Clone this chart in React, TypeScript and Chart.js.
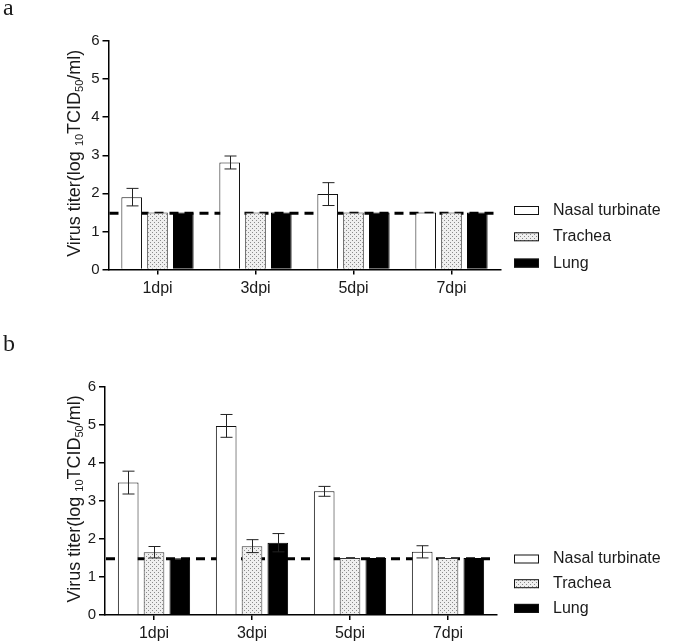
import React, { useEffect, useRef } from 'react';
import { Chart, registerables } from 'chart.js';

Chart.register(...registerables);

// ---------- data ----------
const categories = ['1dpi', '3dpi', '5dpi', '7dpi'];
const seriesLabels = ['Nasal turbinate', 'Trachea', 'Lung'];
const yTickValues = [0, 1, 2, 3, 4, 5, 6];
const detectionLimit = 1.48;
const axisTitleParts = [
  { t: 'Virus titer(log ', sub: false },
  { t: '10', sub: true },
  { t: 'TCID', sub: false },
  { t: '50', sub: true },
  { t: '/ml)', sub: false },
];

// panel a
const aNasal = [1.9, 2.81, 1.98, 1.5];
const aNasalErr = [0.23, 0.17, 0.3, 0];
const aTrachea = [1.5, 1.5, 1.5, 1.5];
const aTracheaErr = [0, 0, 0, 0];
const aLung = [1.5, 1.5, 1.5, 1.5];
const aLungErr = [0, 0, 0, 0];

// panel b
const bNasal = [3.48, 4.97, 3.25, 1.66];
const bNasalErr = [0.3, 0.3, 0.13, 0.16];
const bTrachea = [1.65, 1.81, 1.5, 1.5];
const bTracheaErr = [0.15, 0.17, 0, 0];
const bLung = [1.49, 1.9, 1.5, 1.5];
const bLungErr = [0, 0.24, 0, 0];

// ---------- styling / layout ----------
const W = 675;
const SANS = '"Liberation Sans", Arial, sans-serif';
const SERIF = '"Liberation Serif", "Times New Roman", serif';
const TEXT = '#1a1a1a';

type PanelCfg = {
  letter: string;
  top: number;
  height: number;
  left: number;
  right: number;
  chartTop: number;
  chartBottom: number;
  letterBaseline: number;
  legendY: number;
  legendGap: number;
  series: number[][];
  errors: number[][];
};

const panels: PanelCfg[] = [
  {
    letter: 'a',
    top: 0,
    height: 322,
    left: 108.5,
    right: 500.5,
    chartTop: 41,
    chartBottom: 269.5,
    letterBaseline: 15,
    legendY: 210.5,
    legendGap: 26.3,
    series: [aNasal, aTrachea, aLung],
    errors: [aNasalErr, aTracheaErr, aLungErr],
  },
  {
    letter: 'b',
    top: 322,
    height: 322,
    left: 105,
    right: 497,
    chartTop: 64.7,
    chartBottom: 293,
    letterBaseline: 29,
    legendY: 237,
    legendGap: 24.7,
    series: [bNasal, bTrachea, bLung],
    errors: [bNasalErr, bTracheaErr, bLungErr],
  },
];

function makeDots(): CanvasPattern | string {
  const c = document.createElement('canvas');
  c.width = 4;
  c.height = 4;
  const g = c.getContext('2d');
  if (!g) return '#e0e0e0';
  g.fillStyle = '#efefef';
  g.fillRect(0, 0, 4, 4);
  g.fillStyle = '#8a8a8a';
  g.fillRect(0, 0, 1, 1);
  g.fillRect(2, 2, 1, 1);
  return g.createPattern(c, 'repeat') || '#e0e0e0';
}

function Panel({ cfg }: { cfg: PanelCfg }) {
  const ref = useRef<HTMLCanvasElement>(null);

  useEffect(() => {
    const canvas = ref.current;
    if (!canvas) return;
    const dots = makeDots();
    const fills: any[] = ['#ffffff', dots, '#000000'];
    const borders = ['#111111', '#333333', '#000000'];

    const customPlugin = {
      id: 'custom_' + cfg.letter,
      beforeDatasetsDraw(chart: any) {
        const ctx = chart.ctx;
        const ca = chart.chartArea;
        const y = chart.scales.y.getPixelForValue(detectionLimit);
        ctx.save();
        ctx.strokeStyle = '#000';
        ctx.lineWidth = 3;
        ctx.setLineDash([9, 6]);
        ctx.beginPath();
        ctx.moveTo(ca.left + 1, y);
        ctx.lineTo(ca.right - 2, y);
        ctx.stroke();
        ctx.restore();
      },
      afterDatasetsDraw(chart: any) {
        const ctx = chart.ctx;
        const ys = chart.scales.y;
        ctx.save();
        ctx.lineWidth = 1;
        chart.data.datasets.forEach((ds: any, di: number) => {
          const meta = chart.getDatasetMeta(di);
          meta.data.forEach((bar: any, i: number) => {
            const e = ds.errors[i];
            if (!e) return;
            const v = ds.data[i];
            const x = Math.round(bar.x) + 0.5;
            const yt = ys.getPixelForValue(v + e);
            const yb = ys.getPixelForValue(v - e);
            ctx.strokeStyle = '#222';
            ctx.beginPath();
            ctx.moveTo(x, yt);
            ctx.lineTo(x, yb);
            ctx.moveTo(x - 6, yt);
            ctx.lineTo(x + 6, yt);
            ctx.moveTo(x - 6, yb);
            ctx.lineTo(x + 6, yb);
            ctx.stroke();
          });
        });
        ctx.restore();
      },
      afterDraw(chart: any) {
        const ctx = chart.ctx;
        const ca = chart.chartArea;
        ctx.save();
        // panel letter
        ctx.fillStyle = TEXT;
        ctx.font = `24px ${SERIF}`;
        ctx.textAlign = 'left';
        ctx.textBaseline = 'alphabetic';
        ctx.fillText(cfg.letter, 3, cfg.letterBaseline);

        // y-axis title with subscripts
        const mainFont = `18px ${SANS}`;
        const subFont = `11px ${SANS}`;
        let total = 0;
        const widths = axisTitleParts.map((p) => {
          ctx.font = p.sub ? subFont : mainFont;
          const w = ctx.measureText(p.t).width;
          total += w;
          return w;
        });
        const cy = (ca.top + ca.bottom) / 2 - 2;
        ctx.translate(75, cy);
        ctx.rotate(-Math.PI / 2);
        ctx.textBaseline = 'middle';
        let xx = -total / 2;
        axisTitleParts.forEach((p, k) => {
          ctx.font = p.sub ? subFont : mainFont;
          ctx.fillText(p.t, xx, p.sub ? 5 : 0);
          xx += widths[k];
        });
        ctx.setTransform(1, 0, 0, 1, 0, 0);

        // legend
        ctx.font = `16px ${SANS}`;
        ctx.textBaseline = 'middle';
        chart.data.datasets.forEach((ds: any, di: number) => {
          const ry = cfg.legendY + di * cfg.legendGap;
          ctx.fillStyle = fills[di];
          ctx.fillRect(514, ry - 4.5, 25, 9);
          ctx.strokeStyle = '#111';
          ctx.lineWidth = 1;
          ctx.strokeRect(514.5, ry - 4, 24, 8);
          ctx.fillStyle = TEXT;
          ctx.fillText(ds.label, 553, ry);
        });
        ctx.restore();
      },
    };

    const chart = new Chart(canvas, {
      type: 'bar',
      data: {
        labels: categories,
        datasets: cfg.series.map((s, di) => ({
          label: seriesLabels[di],
          data: s,
          errors: cfg.errors[di],
          backgroundColor: fills[di],
          borderColor: borders[di],
          borderWidth: 1,
          borderSkipped: 'start',
          categoryPercentage: 0.79,
          barPercentage: 0.8,
        })) as any,
      },
      options: {
        animation: false,
        responsive: false,
        devicePixelRatio: 1,
        layout: {
          padding: { left: 0, top: cfg.chartTop, right: W - cfg.right, bottom: 0 },
        },
        plugins: {
          legend: { display: false },
          tooltip: { enabled: false },
          title: { display: false },
        },
        scales: {
          x: {
            type: 'category',
            offset: true,
            grid: {
              offset: false,
              drawOnChartArea: false,
              drawTicks: true,
              tickLength: 5,
              color: '#000',
              lineWidth: 1.5,
            },
            border: { display: true, color: '#000', width: 1.5 },
            ticks: {
              color: TEXT,
              font: { family: SANS, size: 16 },
              padding: 4,
              maxRotation: 0,
            },
            afterFit(scale: any) {
              scale.height = cfg.height - cfg.chartBottom;
            },
          },
          y: {
            type: 'linear',
            min: 0,
            max: 6,
            grid: {
              drawOnChartArea: false,
              drawTicks: true,
              tickLength: 6,
              color: '#000',
              lineWidth: 1.5,
            },
            border: { display: true, color: '#000', width: 1.5 },
            ticks: {
              stepSize: 1,
              color: TEXT,
              font: { family: SANS, size: 15 },
              padding: 3,
              callback: (v: any) => (yTickValues.includes(Number(v)) ? String(v) : ''),
            },
            afterFit(scale: any) {
              scale.width = cfg.left;
            },
          },
        },
      } as any,
      plugins: [customPlugin as any],
    });

    return () => chart.destroy();
  }, [cfg]);

  return (
    <canvas
      ref={ref}
      width={W}
      height={cfg.height}
      style={{ position: 'absolute', left: 0, top: cfg.top, width: W, height: cfg.height, display: 'block' }}
    />
  );
}

export default function App() {
  return (
    <div style={{ position: 'absolute', left: 0, top: 0, width: W, height: 644, background: '#fff' }}>
      {panels.map((p) => (
        <Panel key={p.letter} cfg={p} />
      ))}
    </div>
  );
}
